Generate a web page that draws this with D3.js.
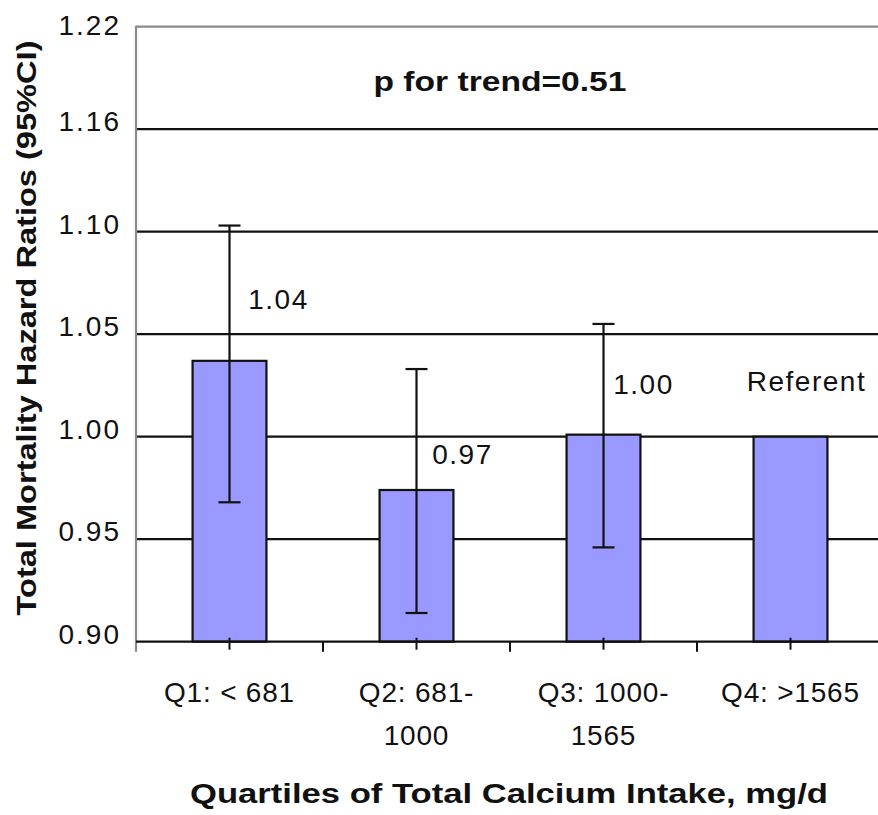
<!DOCTYPE html>
<html>
<head>
<meta charset="utf-8">
<script src="https://cdn.jsdelivr.net/npm/d3@7"></script>
<style>
  html, body { margin: 0; padding: 0; background: #fff; }
  svg { display: block; font-family: "Liberation Sans", Arial, sans-serif; }
</style>
</head>
<body>
<div id="chart"></div>
<script>
// ---- Data ----
const categories = ["Q1", "Q2", "Q3", "Q4"];
const categoryLabels = [["Q1: < 681"], ["Q2: 681-", "1000"], ["Q3: 1000-", "1565"], ["Q4: >1565"]];
const hazardRatios = [1.037, 0.974, 1.001, 1.00];
const ciLower = [0.968, 0.914, 0.946, null];
const ciUpper = [1.103, 1.033, 1.055, null];
const dataLabels = ["1.04", "0.97", "1.00", "Referent"];
const yTickValues = [0.90, 0.95, 1.00, 1.05, 1.10, 1.15, 1.20];
const yTickLabels = ["0.90", "0.95", "1.00", "1.05", "1.10", "1.16", "1.22"];
const annotation = "p for trend=0.51";
const xTitle = "Quartiles of Total Calcium Intake, mg/d";
const yTitle = "Total Mortality Hazard Ratios (95%CI)";

// label offsets (layout only): dx from category centre, dy from bar top
const labelOffsets = [[49, -52], [46, -26], [40, -41], [16, -46]];

// ---- Layout ----
const W = 878, H = 815;
const plot = { left: 136, right: 884, top: 26.7, bottom: 641.7 };

const svg = d3.select("#chart").append("svg")
  .attr("width", W).attr("height", H);
svg.append("rect").attr("width", W).attr("height", H).attr("fill", "#fff");

const x = d3.scaleBand().domain(categories).range([plot.left, plot.right]).padding(0);
const y = d3.scaleLinear().domain([0.90, 1.20]).range([plot.bottom, plot.top]);
const barW = x.bandwidth() * 0.395;
const cx = c => x(c) + x.bandwidth() / 2;

// gridlines
svg.append("g").selectAll("line")
  .data(yTickValues.filter(v => v > 0.90 && v < 1.20))
  .join("line")
  .attr("x1", plot.left).attr("x2", W)
  .attr("y1", d => y(d)).attr("y2", d => y(d))
  .attr("stroke", "#111").attr("stroke-width", 2.2);

// top border (gray)
svg.append("line")
  .attr("x1", plot.left).attr("x2", W)
  .attr("y1", y(1.20)).attr("y2", y(1.20))
  .attr("stroke", "#8a8a8a").attr("stroke-width", 2.2);

// y tick labels
svg.append("g").selectAll("text")
  .data(yTickValues)
  .join("text")
  .attr("x", 121)
  .attr("y", d => Math.max(y(d) + 2, 35))
  .attr("text-anchor", "end")
  .attr("font-size", 28)
  .attr("letter-spacing", 2)
  .attr("fill", "#111")
  .text((d, i) => yTickLabels[i]);

// bars
const bars = categories.map((c, i) => ({ c, v: hazardRatios[i], lo: ciLower[i], hi: ciUpper[i], label: dataLabels[i], off: labelOffsets[i] }));

svg.append("g").selectAll("rect")
  .data(bars)
  .join("rect")
  .attr("x", d => cx(d.c) - barW / 2)
  .attr("width", barW)
  .attr("y", d => y(d.v))
  .attr("height", d => y(0.90) - y(d.v))
  .attr("fill", "#9999ff")
  .attr("stroke", "#111")
  .attr("stroke-width", 2.2);

// left axis line (gray)
svg.append("line")
  .attr("x1", plot.left).attr("x2", plot.left)
  .attr("y1", plot.top - 1).attr("y2", plot.bottom + 10)
  .attr("stroke", "#8a8a8a").attr("stroke-width", 2.2);

// bottom axis line
svg.append("line")
  .attr("x1", plot.left).attr("x2", W)
  .attr("y1", plot.bottom).attr("y2", plot.bottom)
  .attr("stroke", "#111").attr("stroke-width", 2.2);

// x ticks: category boundaries and centres
svg.append("g").selectAll("line")
  .data(categories.slice(1))
  .join("line")
  .attr("x1", d => x(d)).attr("x2", d => x(d))
  .attr("y1", plot.bottom).attr("y2", plot.bottom + 10)
  .attr("stroke", "#111").attr("stroke-width", 2);
svg.append("g").selectAll("line")
  .data(categories)
  .join("line")
  .attr("x1", d => cx(d)).attr("x2", d => cx(d))
  .attr("y1", plot.bottom - 4).attr("y2", plot.bottom + 8)
  .attr("stroke", "#111").attr("stroke-width", 2);

// error bars
const eb = svg.append("g").selectAll("g")
  .data(bars.filter(d => d.lo != null))
  .join("g")
  .attr("stroke", "#111").attr("stroke-width", 2.2);
eb.append("line")
  .attr("x1", d => cx(d.c)).attr("x2", d => cx(d.c))
  .attr("y1", d => y(d.hi)).attr("y2", d => y(d.lo));
eb.append("line")
  .attr("x1", d => cx(d.c) - 11).attr("x2", d => cx(d.c) + 11)
  .attr("y1", d => y(d.hi)).attr("y2", d => y(d.hi));
eb.append("line")
  .attr("x1", d => cx(d.c) - 11).attr("x2", d => cx(d.c) + 11)
  .attr("y1", d => y(d.lo)).attr("y2", d => y(d.lo));

// data labels
svg.append("g").selectAll("text")
  .data(bars)
  .join("text")
  .attr("x", d => cx(d.c) + d.off[0])
  .attr("y", d => y(d.v) + d.off[1])
  .attr("text-anchor", "middle")
  .attr("font-size", 28)
  .attr("letter-spacing", 1.5)
  .attr("fill", "#111")
  .text(d => d.label);

// x tick labels
const xl = svg.append("g").selectAll("text")
  .data(categories)
  .join("text")
  .attr("text-anchor", "middle")
  .attr("font-size", 28)
  .attr("letter-spacing", 0.8)
  .attr("fill", "#111");
xl.each(function (d, i) {
  d3.select(this).selectAll("tspan")
    .data(categoryLabels[i])
    .join("tspan")
    .attr("x", cx(d))
    .attr("y", (t, j) => plot.bottom + 60 + j * 43)
    .text(t => t);
});

// annotation
svg.append("text")
  .attr("x", 500).attr("y", 91)
  .attr("text-anchor", "middle")
  .attr("font-size", 28).attr("font-weight", "bold")
  .attr("textLength", 253).attr("lengthAdjust", "spacingAndGlyphs")
  .attr("fill", "#111")
  .text(annotation);

// x title
svg.append("text")
  .attr("x", 509).attr("y", 803)
  .attr("text-anchor", "middle")
  .attr("font-size", 27).attr("font-weight", "bold")
  .attr("textLength", 638).attr("lengthAdjust", "spacingAndGlyphs")
  .attr("fill", "#111")
  .text(xTitle);

// y title
svg.append("text")
  .attr("transform", "translate(36,328) rotate(-90)")
  .attr("text-anchor", "middle")
  .attr("font-size", 27).attr("font-weight", "bold")
  .attr("textLength", 575).attr("lengthAdjust", "spacingAndGlyphs")
  .attr("fill", "#111")
  .text(yTitle);
</script>
</body>
</html>
